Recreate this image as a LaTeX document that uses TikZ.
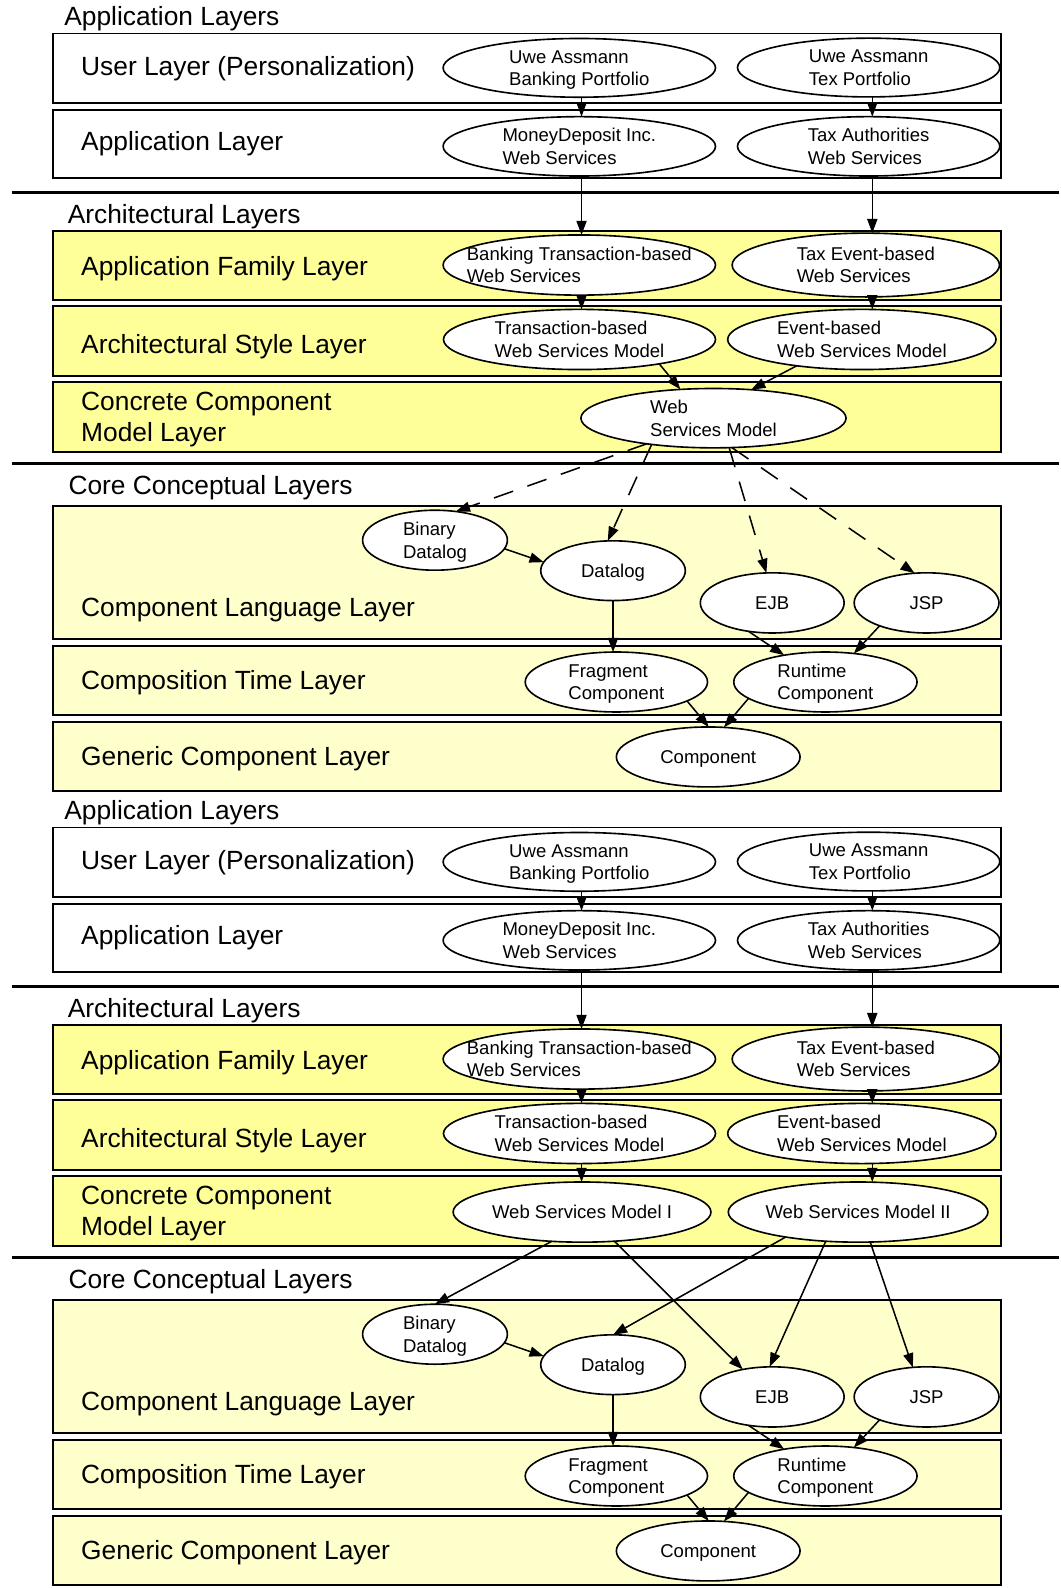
\documentclass[tikz,border=0pt]{standalone}
\usepackage{fontspec}
\setmainfont{Liberation Sans}
\usetikzlibrary{shapes.geometric,arrows.meta}
\definecolor{archfill}{HTML}{FFFF99}
\definecolor{corefill}{HTML}{FFFFCC}
\newcommand\bigfnt{\fontsize{26}{31.3}\selectfont}
\newcommand\smallfnt{\fontsize{18.3}{22.3}\selectfont}
\tikzset{
  layerbox/.style={draw=black, line width=1.8pt},
  sepline/.style={line width=3.3pt},
  ell/.style={ellipse, draw=black, fill=white, line width=1.6pt, inner sep=0pt, outer sep=0pt},
  etext/.style={inner sep=0pt, align=left, font=\smallfnt, yshift=-2pt},
  biglabel/.style={inner sep=0pt, anchor=base west, font=\bigfnt},
  arr/.style={line width=1.5pt, -{Triangle[length=14pt,width=10pt]}},
  darr/.style={arr, dash pattern=on 20pt off 15pt},
}
\newcommand\drawlayers[1]{%
  \path[layerbox, fill=white] (52.2,33) rectangle (988.4,101.4);
  \path[layerbox, fill=white] (52.2,108.7) rectangle (988.4,176.1);
  \path[layerbox, fill=archfill] (52.2,227.8) rectangle (988.4,296.3);
  \path[layerbox, fill=archfill] (52.2,302.3) rectangle (988.4,371.4);
  \path[layerbox, fill=archfill] (52.2,377) rectangle (988.4,446.2);
  \path[layerbox, fill=corefill] (52.2,499.5) rectangle (988.4,631.2);
  \path[layerbox, fill=corefill] (52.2,638) rectangle (988.4,705.6);
  \path[layerbox, fill=corefill] (52.2,712.8) rectangle (988.4,781);
  \draw[sepline] (11.7,190) -- (1046,190);
  \draw[sepline] (11.7,457.6) -- (1046,457.6);
  \node[biglabel] (ta#1) at (63.3,24.7) {Application Layers};
  \node[biglabel] (tb#1) at (66.8,220.6) {Architectural Layers};
  \node[biglabel] (tc#1) at (67.5,488) {Core Conceptual Layers};
  \node[biglabel] (la#1) at (80,75) {User Layer (Personalization)};
  \node[biglabel] (lb#1) at (80,148.2) {Application Layer};
  \node[biglabel] (lc#1) at (80,271.6) {Application Family Layer};
  \node[biglabel] (ld#1) at (80,349) {Architectural Style Layer};
  \node[biglabel, anchor=west, align=left] (le#1) at (80,414.4) {\strut Concrete Component\\\strut Model Layer};
  \node[biglabel] (lf#1) at (80,608.5) {Component Language Layer};
  \node[biglabel] (lg#1) at (80,680.6) {Composition Time Layer};
  \node[biglabel] (lh#1) at (80,756.3) {Generic Component Layer};
  \node[ell, minimum width=269pt, minimum height=58pt] (ub#1) at (572,67) {};
  \node[etext] (ubt#1) at (ub#1) {\strut Uwe Assmann\\\strut Banking Portfolio};
  \node[ell, minimum width=259pt, minimum height=58pt] (tp#1) at (857.7,66.7) {};
  \node[etext] (tpt#1) at (tp#1) {\strut Uwe Assmann\\\strut Tex Portfolio};
  \node[ell, minimum width=269pt, minimum height=58.6pt] (md#1) at (572,144.5) {};
  \node[etext] (mdt#1) at (md#1) {\strut MoneyDeposit Inc.\\\strut Web Services};
  \node[ell, minimum width=259pt, minimum height=58.6pt] (tx#1) at (857.7,144.5) {};
  \node[etext] (txt#1) at (tx#1) {\strut Tax Authorities\\\strut Web Services};
  \node[ell, minimum width=269pt, minimum height=59.4pt] (bt#1) at (572,261.7) {};
  \node[etext] (btt#1) at (bt#1) {\strut Banking Transaction-based\\\strut Web Services};
  \node[ell, minimum width=264pt, minimum height=63pt] (te#1) at (854.9,261.7) {};
  \node[etext] (tet#1) at (te#1) {\strut Tax Event-based\\\strut Web Services};
  \node[ell, minimum width=268.6pt, minimum height=59.4pt] (tr#1) at (572.2,335.2) {};
  \node[etext] (trt#1) at (tr#1) {\strut Transaction-based\\\strut Web Services Model};
  \node[ell, minimum width=265pt, minimum height=59.4pt] (eb#1) at (851,335.2) {};
  \node[etext] (ebt#1) at (eb#1) {\strut Event-based\\\strut Web Services Model};
  \node[ell, minimum width=143pt, minimum height=59.2pt] (bd#1) at (429.5,533.4) {};
  \node[etext] (bdt#1) at (bd#1) {\strut Binary\\\strut Datalog};
  \node[ell, minimum width=142.8pt, minimum height=59pt] (dl#1) at (605.3,563.5) {};
  \node[etext] (dlt#1) at (dl#1) {\strut Datalog};
  \node[ell, minimum width=142pt, minimum height=59.4pt] (ejb#1) at (762.5,595.3) {};
  \node[etext] (ejbt#1) at (ejb#1) {\strut EJB};
  \node[ell, minimum width=143pt, minimum height=59.4pt] (jsp#1) at (914.9,595.3) {};
  \node[etext] (jspt#1) at (jsp#1) {\strut JSP};
  \node[ell, minimum width=180pt, minimum height=59.2pt] (fc#1) at (608.6,673.4) {};
  \node[etext] (fct#1) at (fc#1) {\strut Fragment\\\strut Component};
  \node[ell, minimum width=181pt, minimum height=59.2pt] (rc#1) at (815,673.4) {};
  \node[etext] (rct#1) at (rc#1) {\strut Runtime\\\strut Component};
  \node[ell, minimum width=181.4pt, minimum height=59.2pt] (cp#1) at (699.3,747.4) {};
  \node[etext] (cpt#1) at (cp#1) {\strut Component};
  \draw[arr] (ub#1.south -| colL) -- (md#1.north -| colL);
  \draw[arr] (tp#1.south -| colR) -- (tx#1.north -| colR);
  \draw[arr] (md#1.south -| colL) -- (bt#1.north -| colL);
  \draw[arr] (tx#1.south -| colR) -- (te#1.north -| colR);
  \draw[arr] (bt#1.south -| colL) -- (tr#1.north -| colL);
  \draw[arr] (te#1.south -| colR) -- (eb#1.north -| colR);
  \draw[arr] (bd#1.-7) -- (dl#1.173);
  \draw[arr] (dl#1.south) -- (dl#1.south |- fc#1.north);
  \draw[arr] (ejb#1.-130) -- (rc#1.147);
  \draw[arr] (jsp#1.-154) -- (rc#1.45);
  \draw[arr] (fc#1.-15) -- (cp#1.89);
  \draw[arr] (rc#1.-168) -- (cp#1.62);
}
\begin{document}
\begin{tikzpicture}[x=1pt,y=-1pt]
  \useasboundingbox (0,0) rectangle (1047,1568);
  \coordinate (colL) at (574.2,0);
  \coordinate (colR) at (861.3,0);
  \begin{scope}
    \drawlayers{1}
    \node[ell, minimum width=261.8pt, minimum height=58.6pt] (wsm) at (704.5,412.9) {};
    \node[etext] (wsmt) at (wsm) {\strut Web\\\strut Services Model};
    \draw[arr] (tr1.-17) -- (wsm.139);
    \draw[arr] (eb1.-158) -- (wsm.37);
    \draw[darr] (wsm.-159) -- (bd1.54);
    \draw[darr] (wsm.-157) -- (dl1.100);
    \draw[darr] (wsm.-62) -- (ejb1.101);
    \draw[darr] (wsm.-58) -- (jsp1.112);
  \end{scope}
  \begin{scope}[yshift=-784pt]
    \drawlayers{2}
    \node[ell, minimum width=254.6pt, minimum height=59.4pt] (wsmi) at (574.7,412.8) {};
    \node[etext] (wsmit) at (wsmi) {\strut Web Services Model I};
    \node[ell, minimum width=256.4pt, minimum height=59.4pt] (wsmii) at (847.3,412.8) {};
    \node[etext] (wsmiit) at (wsmii) {\strut Web Services Model II};
    \draw[arr] (tr2.south -| colL) -- (wsmi.north -| colL);
    \draw[arr] (eb2.south -| colR) -- (wsmii.north -| colR);
    \draw[arr] (wsmi.-136) -- (bd2.90);
    \draw[arr] (wsmi.-42) -- (ejb2.137);
    \draw[arr] (wsmii.-161) -- (dl2.90);
    \draw[arr] (wsmii.-138) -- (ejb2.95);
    \draw[arr] (wsmii.-68) -- (jsp2.115);
  \end{scope}
\end{tikzpicture}
\end{document}
